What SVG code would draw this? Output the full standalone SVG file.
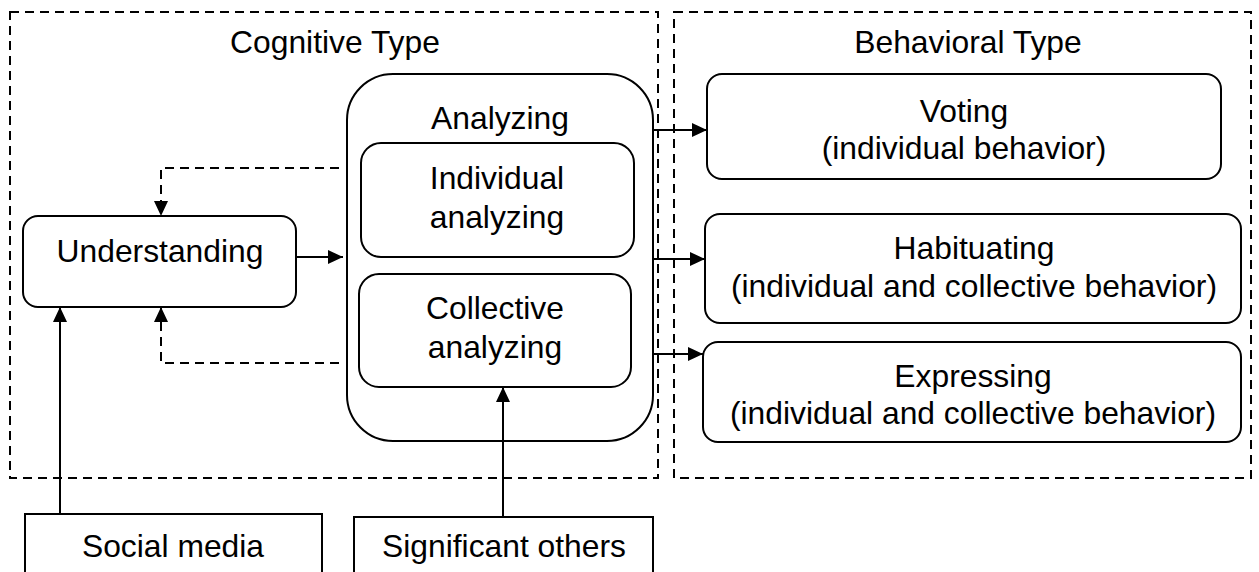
<svg xmlns="http://www.w3.org/2000/svg" width="1259" height="572" viewBox="0 0 1259 572">
<style>
.t{font-family:"Liberation Sans",Arial,sans-serif;font-size:31.8px;fill:#000;text-anchor:middle}
.b{fill:#fff;stroke:#000;stroke-width:2}
.d{fill:none;stroke:#000;stroke-width:2;stroke-dasharray:9 6}
.c{fill:none;stroke:#000;stroke-width:2}
</style>
<defs>
<marker id="ah" markerWidth="15" markerHeight="14" refX="15" refY="7" orient="auto" markerUnits="userSpaceOnUse">
<path d="M0,0 L15,7 L0,14 Z" fill="#000"/>
</marker>
</defs>
<rect width="1259" height="572" fill="#fff"/>
<g id="cognitive-type">
<rect x="10" y="12" width="648" height="466" class="d"/>
<text x="335" y="53" class="t">Cognitive Type</text>
</g>
<g id="behavioral-type">
<rect x="674" y="12" width="577" height="466" class="d"/>
<text x="968" y="53" class="t">Behavioral Type</text>
</g>
<g id="analyzing">
<rect x="347" y="74" width="306" height="367" rx="46" class="b"/>
<text x="500" y="129" class="t">Analyzing</text>
</g>
<g id="individual-analyzing">
<rect x="361" y="143" width="273" height="114" rx="20" class="b"/>
<text x="497" y="189" class="t">Individual</text>
<text x="497" y="228" class="t">analyzing</text>
</g>
<g id="collective-analyzing">
<rect x="359" y="274" width="272" height="113" rx="20" class="b"/>
<text x="495" y="319" class="t">Collective</text>
<text x="495" y="358" class="t">analyzing</text>
</g>
<g id="understanding">
<rect x="23" y="216" width="273" height="91" rx="15" class="b"/>
<text x="160" y="262" class="t">Understanding</text>
</g>
<g id="social-media">
<rect x="25" y="514" width="297" height="70" class="b"/>
<text x="173" y="557" class="t">Social media</text>
</g>
<g id="significant-others">
<rect x="354" y="517" width="299" height="67" class="b"/>
<text x="504" y="557" class="t">Significant others</text>
</g>
<g id="voting">
<rect x="707" y="74" width="514" height="105" rx="15" class="b"/>
<text x="964" y="122" class="t">Voting</text>
<text x="964" y="159" class="t">(individual behavior)</text>
</g>
<g id="habituating">
<rect x="705" y="214" width="536" height="109" rx="15" class="b"/>
<text x="974" y="259" class="t">Habituating</text>
<text x="974" y="297" class="t">(individual and collective behavior)</text>
</g>
<g id="expressing">
<rect x="703" y="342" width="538" height="100" rx="15" class="b"/>
<text x="973" y="387" class="t">Expressing</text>
<text x="973" y="424" class="t">(individual and collective behavior)</text>
</g>
<g id="connectors">
<line x1="296" y1="257" x2="343" y2="257" class="c" marker-end="url(#ah)"/>
<polyline points="339,168 161,168 161,216" class="d" marker-end="url(#ah)"/>
<polyline points="339,363 161,363 161,307" class="d" marker-end="url(#ah)"/>
<line x1="60" y1="514" x2="60" y2="307" class="c" marker-end="url(#ah)"/>
<line x1="503" y1="517" x2="503" y2="387" class="c" marker-end="url(#ah)"/>
<line x1="653" y1="130" x2="707" y2="130" class="c" marker-end="url(#ah)"/>
<line x1="653" y1="259" x2="705" y2="259" class="c" marker-end="url(#ah)"/>
<line x1="653" y1="354" x2="703" y2="354" class="c" marker-end="url(#ah)"/>
</g>
</svg>
